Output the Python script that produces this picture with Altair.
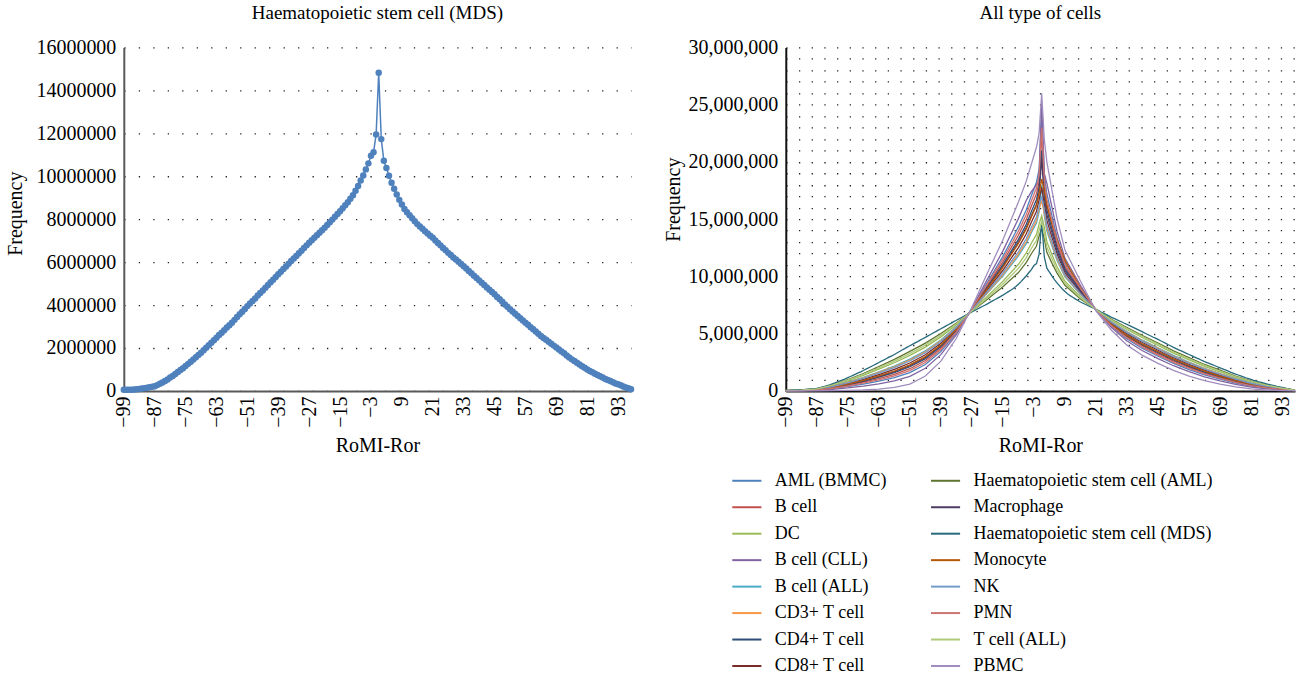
import altair as alt
import pandas as pd

FONT = "Liberation Serif"

# ---------------- data (frequencies in millions) ----------------
MDS_X = list(range(-99, 99))
MDS_M = [
    .05, .05, .06, .06, .07, .08, .09, .11, .13, .15,
    .17, .19, .22, .27, .33, .39, .46, .53, .62, .70,
    .79, .88, .97, 1.06, 1.16, 1.26, 1.36, 1.46, 1.57, 1.67,
    1.78, 1.90, 2.01, 2.13, 2.24, 2.36, 2.48, 2.60, 2.71, 2.83,
    2.95, 3.06, 3.18, 3.31, 3.44, 3.57, 3.69, 3.82, 3.95, 4.07,
    4.19, 4.31, 4.44, 4.56, 4.68, 4.81, 4.93, 5.06, 5.18, 5.31,
    5.43, 5.55, 5.68, 5.80, 5.92, 6.05, 6.17, 6.29, 6.41, 6.53,
    6.66, 6.78, 6.90, 7.02, 7.13, 7.25, 7.37, 7.48, 7.60, 7.73,
    7.86, 7.98, 8.11, 8.24, 8.37, 8.51, 8.65, 8.79, 8.95, 9.12,
    9.32, 9.55, 9.80, 10.04, 10.32, 10.60, 10.95, 11.12, 11.95, 14.82,
    11.73, 10.72, 10.38, 10.02, 9.70, 9.42, 9.15, 8.90, 8.68, 8.48,
    8.32, 8.18, 8.04, 7.90, 7.77, 7.66, 7.55, 7.44, 7.33, 7.23,
    7.13, 7.01, 6.89, 6.78, 6.66, 6.55, 6.43, 6.33, 6.22, 6.12,
    6.02, 5.91, 5.81, 5.70, 5.59, 5.48, 5.37, 5.26, 5.15, 5.04,
    4.93, 4.82, 4.71, 4.61, 4.50, 4.38, 4.27, 4.15, 4.03, 3.92,
    3.80, 3.70, 3.59, 3.49, 3.39, 3.28, 3.18, 3.08, 2.97, 2.87,
    2.77, 2.66, 2.56, 2.47, 2.38, 2.29, 2.20, 2.11, 2.02, 1.93,
    1.84, 1.75, 1.65, 1.56, 1.47, 1.39, 1.31, 1.23, 1.15, 1.08,
    1.00, .93, .87, .80, .74, .68, .62, .56, .51, .46,
    .40, .35, .31, .26, .21, .16, .12, .08,
]

X_R = [-99, -93, -87, -81, -75, -69, -63, -57, -51, -45, -39, -33, -27, -21, -15, -9,
       -6, -4, -2, -1, 0, 1, 2, 4, 6, 9,
       15, 21, 27, 33, 39, 45, 51, 57, 63, 69, 75, 81, 87, 93, 98]

AML_BMMC = [.02, .03, .07, .20, .38, .59, .85, 1.16, 1.60, 2.31, 3.45, 5.07, 7.18, 9.49, 11.75, 14.33, 15.80, 17.04, 18.25, 19.34,
            24.3, 18.92, 17.22, 15.26, 13.33, 11.21, 9.05, 7.04, 5.64, 4.54, 3.71, 3.03, 2.40, 1.86, 1.40, 1.03, .69, .43, .24, .11, .03]
B_CELL = [.02, .04, .09, .26, .49, .76, 1.08, 1.45, 1.94, 2.65, 3.73, 5.23, 7.14, 9.22, 11.27, 13.60, 14.96, 16.12, 17.23, 18.28,
          22.5, 17.89, 16.29, 14.51, 12.77, 10.85, 8.87, 7.05, 5.75, 4.72, 3.92, 3.24, 2.60, 2.05, 1.56, 1.17, .80, .51, .30, .14, .04]
DC = [.04, .07, .17, .47, .88, 1.35, 1.90, 2.46, 3.11, 3.83, 4.72, 5.78, 7.00, 8.28, 9.58, 11.06, 12.04, 12.90, 13.67, 14.59,
      15.3, 14.30, 13.04, 11.89, 10.82, 9.59, 8.23, 7.10, 6.15, 5.36, 4.64, 3.97, 3.30, 2.71, 2.14, 1.66, 1.19, .79, .48, .24, .06]
B_CLL = [.01, .02, .05, .14, .26, .42, .62, .88, 1.27, 1.98, 3.17, 4.91, 7.22, 9.76, 12.23, 15.05, 16.63, 17.4, 18.0, 18.6,
         25.3, 19.0, 18.14, 16.0, 13.88, 11.58, 9.23, 7.03, 5.53, 4.36, 3.51, 2.82, 2.20, 1.68, 1.23, .88, .57, .34, .19, .09, .02]
B_ALL = [.03, .06, .15, .41, .77, 1.18, 1.66, 2.17, 2.78, 3.50, 4.44, 5.62, 7.04, 8.55, 10.06, 11.79, 12.87, 13.82, 14.68, 15.64,
         18.0, 15.32, 13.97, 12.64, 11.37, 9.95, 8.41, 7.08, 6.03, 5.18, 4.43, 3.76, 3.10, 2.52, 1.98, 1.52, 1.08, .71, .43, .21, .06]
CD3 = [.03, .05, .14, .40, .74, 1.14, 1.61, 2.10, 2.70, 3.42, 4.37, 5.58, 7.05, 8.60, 10.15, 11.95, 13.05, 14.0, 14.9, 15.9,
       16.6, 15.5, 14.2, 12.8, 11.5, 10.05, 8.45, 7.08, 6.00, 5.14, 4.38, 3.71, 3.05, 2.48, 1.94, 1.49, 1.05, .69, .41, .20, .05]
CD4 = [.03, .04, .10, .29, .54, .84, 1.20, 1.60, 2.11, 2.82, 3.87, 5.31, 7.12, 9.09, 11.03, 13.24, 14.54, 15.66, 16.72, 17.75,
       21.0, 17.38, 15.82, 14.13, 12.49, 10.67, 8.78, 7.06, 5.81, 4.81, 4.02, 3.34, 2.70, 2.15, 1.65, 1.24, .85, .55, .32, .16, .04]
CD8 = [.03, .05, .13, .35, .66, 1.01, 1.43, 1.88, 2.44, 3.16, 4.16, 5.46, 7.08, 8.82, 10.54, 12.51, 13.71, 14.74, 15.70, 16.70,
       17.8, 16.35, 14.90, 13.39, 11.93, 10.31, 8.59, 7.07, 5.92, 5.00, 4.23, 3.55, 2.90, 2.33, 1.81, 1.38, .97, .63, .38, .18, .05]
HSC_AML = [.04, .08, .19, .53, .99, 1.52, 2.13, 2.75, 3.45, 4.17, 5.01, 5.93, 6.96, 8.01, 9.09, 10.34, 11.20, 11.98, 12.65, 13.53,
           14.2, 13.27, 12.11, 11.14, 10.26, 9.22, 8.04, 7.11, 6.26, 5.54, 4.84, 4.18, 3.50, 2.90, 2.31, 1.81, 1.30, .88, .54, .27, .07]
MACROPHAGE = [.03, .05, .11, .31, .58, .90, 1.27, 1.69, 2.21, 2.93, 3.96, 5.35, 7.11, 9.00, 10.88, 13.0, 14.25, 15.3, 16.3, 17.3,
              20.3, 16.9, 15.4, 13.8, 12.2, 10.5, 8.7, 7.06, 5.84, 4.87, 4.09, 3.42, 2.77, 2.21, 1.71, 1.29, .89, .58, .34, .17, .04]
MONOCYTE = [.03, .05, .12, .32, .60, .93, 1.31, 1.74, 2.27, 2.99, 4.01, 5.38, 7.10, 8.95, 10.79, 12.88, 14.13, 15.20, 16.21, 17.23,
            18.5, 17.5, 16.2, 14.6, 13.2, 11.4, 9.0, 7.1, 5.8, 4.85, 4.08, 3.42, 2.78, 2.22, 1.72, 1.30, .90, .59, .35, .17, .04]
NK = [.03, .05, .14, .38, .71, 1.10, 1.55, 2.03, 2.61, 3.33, 4.30, 5.54, 7.06, 8.68, 10.30, 12.15, 13.29, 14.28, 15.19, 16.17,
      17.0, 15.84, 14.43, 13.01, 11.65, 10.13, 8.50, 7.08, 5.98, 5.09, 4.33, 3.66, 3.00, 2.43, 1.90, 1.45, 1.02, .67, .40, .20, .05]
PMN = [.02, .03, .08, .23, .43, .68, .97, 1.31, 1.77, 2.48, 3.59, 5.15, 7.16, 9.36, 11.51, 13.96, 15.38, 16.58, 17.74, 18.81,
       23.0, 18.41, 16.75, 14.88, 13.05, 11.03, 8.96, 7.05, 5.70, 4.63, 3.82, 3.13, 2.50, 1.96, 1.48, 1.10, .74, .47, .27, .13, .03]
T_ALL = [.04, .07, .18, .50, .94, 1.44, 2.01, 2.60, 3.28, 4.00, 4.86, 5.86, 6.98, 8.14, 9.34, 10.70, 11.62, 12.44, 13.16, 14.06,
         14.8, 13.78, 12.58, 11.52, 10.54, 9.40, 8.14, 7.10, 6.20, 5.45, 4.74, 4.08, 3.40, 2.80, 2.23, 1.74, 1.25, .84, .51, .25, .07]
PBMC = [0, 0, .01, .02, .04, .08, .15, .30, .60, 1.30, 2.60, 4.60, 7.30, 10.3, 13.2, 16.5, 18.3, 19.8, 21.3, 22.5,
        26.0, 22.0, 20.0, 17.5, 15.0, 12.3, 9.6, 7.0, 5.3, 4.0, 3.1, 2.4, 1.8, 1.3, .9, .6, .35, .18, .08, .03, .01]

SERIES = [
    ("AML (BMMC)", AML_BMMC, "#4F81BD"),
    ("B cell", B_CELL, "#C0504D"),
    ("DC", DC, "#9BBB59"),
    ("B cell (CLL)", B_CLL, "#8064A2"),
    ("B cell (ALL)", B_ALL, "#4BACC6"),
    ("CD3+ T cell", CD3, "#F79646"),
    ("CD4+ T cell", CD4, "#2C4D75"),
    ("CD8+ T cell", CD8, "#772C2A"),
    ("Haematopoietic stem cell (AML)", HSC_AML, "#5F7530"),
    ("Macrophage", MACROPHAGE, "#4D3B62"),
    ("Haematopoietic stem cell (MDS)", None, "#276A7C"),
    ("Monocyte", MONOCYTE, "#B65708"),
    ("NK", NK, "#729ACA"),
    ("PMN", PMN, "#CD7371"),
    ("T cell (ALL)", T_ALL, "#AFC97A"),
    ("PBMC", PBMC, "#A18EBF"),
]

X_TICKS = [-99, -87, -75, -63, -51, -39, -27, -15, -3, 9, 21, 33, 45, 57, 69, 81, 93]
Y_TICKS_LEFT = [0, 2000000, 4000000, 6000000, 8000000, 10000000, 12000000, 14000000, 16000000]
Y_GRID_RIGHT = [i * 1000000 for i in range(0, 31)]

# ---------------- tables ----------------
df_left = pd.DataFrame({"x": MDS_X, "y": [v * 1e6 for v in MDS_M]})

rows = []
for order, (name, vals, _c) in enumerate(SERIES):
    if vals is None:
        xs, vs = MDS_X, MDS_M
    else:
        xs, vs = X_R, vals
    for x, v in zip(xs, vs):
        rows.append({"series": name, "x": x, "y": v * 1e6, "o": order})
df_right = pd.DataFrame(rows)

names = [s[0] for s in SERIES]
colors = [s[2] for s in SERIES]

AX_DARK = "#595959"

left = alt.Chart(df_left).mark_line(
    color="#4F81BD", strokeWidth=1.5,
    point=alt.OverlayMarkDef(filled=True, size=42, color="#4F81BD", opacity=1),
).encode(
    x=alt.X("x:Q", scale=alt.Scale(domain=[-99, 98], nice=False, zero=False),
            axis=alt.Axis(values=X_TICKS, labelAngle=270, title="RoMI-Ror", grid=False, ticks=False,
                          domainColor=AX_DARK, domainWidth=2, labelPadding=5, titlePadding=8,
                          labelFlush=False, labelOverlap=False)),
    y=alt.Y("y:Q", scale=alt.Scale(domain=[0, 16000000], nice=False),
            axis=alt.Axis(values=Y_TICKS_LEFT, format="d", title="Frequency", ticks=False,
                          domainColor=AX_DARK, domainWidth=2, labelPadding=8, titlePadding=10,
                          titleY=166,
                          grid=True, gridColor="#222222", gridDash=[1.3, 13.2], gridWidth=1.3,
                          labelFlush=False)),
).properties(width=508, height=344,
             title=alt.Title("Haematopoietic stem cell (MDS)", offset=14))

right = alt.Chart(df_right).mark_line(strokeWidth=1.3).encode(
    x=alt.X("x:Q", scale=alt.Scale(domain=[-99, 98], nice=False, zero=False),
            axis=alt.Axis(values=X_TICKS, labelAngle=270, title="RoMI-Ror", grid=False, ticks=False,
                          domainColor="#111111", domainWidth=2, labelPadding=5, titlePadding=8,
                          labelFlush=False, labelOverlap=False)),
    y=alt.Y("y:Q", scale=alt.Scale(domain=[0, 30000000], nice=False),
            axis=alt.Axis(values=Y_GRID_RIGHT, title="Frequency", ticks=False,
                          labelExpr="datum.value % 5000000 === 0 ? format(datum.value, ',') : ''",
                          domainColor="#111111", domainWidth=2, labelPadding=8, titlePadding=4,
                          titleY=152,
                          grid=True, gridColor="#222222", gridDash=[1.3, 11.4], gridWidth=1.3,
                          labelFlush=False, labelOverlap=False)),
    color=alt.Color("series:N", sort=names,
                    scale=alt.Scale(domain=names, range=colors),
                    legend=alt.Legend(orient="none", legendX=608, legendY=418, columns=2,
                                      symbolType="stroke", symbolStrokeWidth=2, symbolSize=850,
                                      labelFont=FONT, labelFontSize=18, labelColor="black",
                                      labelLimit=500, labelOffset=12, columnPadding=39,
                                      rowPadding=1.5, title=None)),
    order=alt.Order("o:Q"),
).properties(width=510, height=344, title=alt.Title("All type of cells", offset=14))

chart = alt.hconcat(left, right, spacing=29).properties(
    padding={"left": 6, "top": 4, "right": 0, "bottom": 0}
).configure_view(strokeWidth=0).configure_axis(
    labelFont=FONT, titleFont=FONT, labelFontSize=20, titleFontSize=20,
    labelColor="black", titleColor="black", titleFontWeight="normal",
).configure_title(font=FONT, fontSize=19, fontWeight="normal", color="black", anchor="middle")

chart.save("out.html", embed_options={"renderer": "svg", "actions": False})
